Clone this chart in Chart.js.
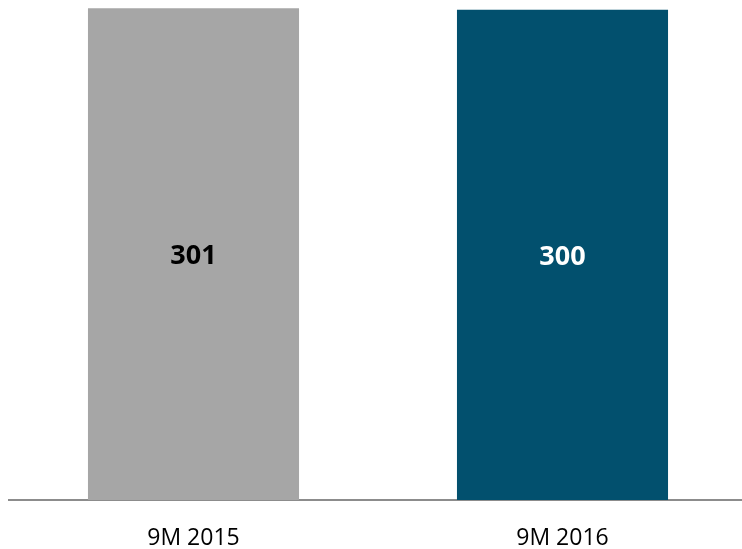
<!DOCTYPE html>
<html>
<head>
<meta charset="utf-8">
<script src="https://cdn.jsdelivr.net/npm/chart.js@4/dist/chart.umd.min.js"></script>
<style>
  html, body { margin: 0; padding: 0; background: #fff; overflow: hidden; }
  canvas { display: block; }
</style>
</head>
<body>
<canvas id="chart" width="747" height="549"></canvas>
<script>
const periods = ['9M 2015', '9M 2016'];
const values = [301, 300];
const barColors = ['#a6a6a6', '#02506e'];
const labelColors = ['#000000', '#ffffff'];

// draws the value in the middle of each bar
const barValues = {
    id: 'barValues',
    afterDatasetsDraw(chart) {
        const ctx = chart.ctx;
        const meta = chart.getDatasetMeta(0);
        ctx.save();
        ctx.font = 'bold 27px "Open Sans"';
        ctx.textAlign = 'center';
        ctx.textBaseline = 'middle';
        meta.data.forEach((bar, i) => {
            ctx.fillStyle = labelColors[i];
            ctx.fillText(values[i], bar.x, (bar.y + bar.base) / 2 + 2);
        });
        ctx.restore();
    }
};

new Chart(document.getElementById('chart').getContext('2d'), {
    type: 'bar',
    data: {
        labels: periods,
        datasets: [{
            data: values,
            backgroundColor: barColors,
            borderWidth: 0,
            categoryPercentage: 1,
            barPercentage: 0.572
        }]
    },
    options: {
        responsive: false,
        animation: false,
        layout: { padding: { left: 9, right: 0, top: 0, bottom: 0 } },
        plugins: {
            legend: { display: false },
            tooltip: { enabled: false }
        },
        scales: {
            x: {
                grid: { display: false },
                border: { display: true, color: '#8c8c8c', width: 2 },
                ticks: {
                    color: '#000',
                    padding: 17,
                    font: { family: 'Open Sans', size: 23 }
                },
                afterFit: s => { s.height = 49; }
            },
            y: {
                display: false,
                min: 0,
                max: 306
            }
        }
    },
    plugins: [barValues]
});
</script>
</body>
</html>
